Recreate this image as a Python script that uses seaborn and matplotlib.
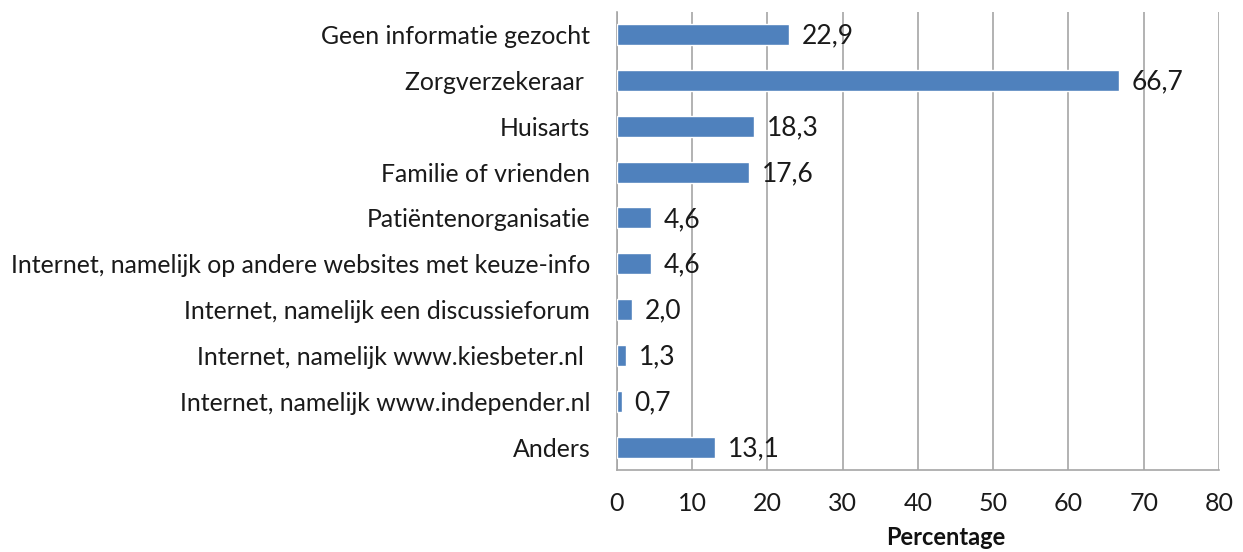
import matplotlib
matplotlib.use("Agg")
import matplotlib.pyplot as plt
import seaborn as sns
import pandas as pd
import numpy as np

categories = [
    "Geen informatie gezocht",
    "Zorgverzekeraar ",
    "Huisarts",
    "Familie of vrienden",
    "Patiëntenorganisatie",
    "Internet, namelijk op andere websites met keuze-info",
    "Internet, namelijk een discussieforum",
    "Internet, namelijk www.kiesbeter.nl ",
    "Internet, namelijk www.independer.nl",
    "Anders",
]
values = [22.9, 66.7, 18.3, 17.6, 4.6, 4.6, 2.0, 1.3, 0.7, 13.1]
x_ticks = [0, 10, 20, 30, 40, 50, 60, 70, 80]

sns.set_style("white")
plt.rcParams['font.family'] = ['Lato', 'DejaVu Sans']

df = pd.DataFrame({"cat": categories, "val": values})

fig = plt.figure(figsize=(12.43, 5.52), dpi=100)
ax = fig.add_axes([616.7/1243, 1 - 470/552, (1219 - 616.7)/1243, (470 - 11.7)/552])

grid_c = "#a6a6a6"
txt_c = "#1a1a1a"
sns.barplot(data=df, x="val", y="cat", orient="h", color="#4f81bd",
            width=0.46, saturation=1, ax=ax, zorder=3)

ax.set_xlim(0, 80)
ax.set_ylim(len(categories) - 0.5, -0.5)
ax.set_xticks(x_ticks)
ax.set_xticklabels([str(t) for t in x_ticks], fontsize=18, color=txt_c)
ax.xaxis.grid(True, color=grid_c, linewidth=1.2, zorder=0)
ax.yaxis.grid(False)

ax.tick_params(axis="x", length=8, width=1.2, color=grid_c, direction="out", pad=8)
ax.set_yticks(range(len(categories)))
ax.set_yticklabels(categories, fontsize=17.9, color=txt_c)
ax.tick_params(axis="y", which="major", length=0, pad=19)
ax.set_yticks(np.arange(-0.5, len(categories), 1.0), minor=True)
ax.tick_params(axis="y", which="minor", length=7, width=1.2, color=grid_c, direction="out")

for s in ["top", "right"]:
    ax.spines[s].set_visible(False)
for s in ["left", "bottom"]:
    ax.spines[s].set_color(grid_c)
    ax.spines[s].set_linewidth(1.2)

for i, v in enumerate(values):
    ax.annotate(f"{v:.1f}".replace(".", ","), xy=(v, i), xytext=(9, -1),
                textcoords="offset points", va="center", ha="left",
                fontsize=19, color=txt_c)

ax.set_ylabel("")
ax.set_xlabel("Percentage", fontsize=17, fontweight="bold", color="#111111")
ax.xaxis.set_label_coords(0.547, -0.122)

fig.savefig("out.png", dpi=100)
